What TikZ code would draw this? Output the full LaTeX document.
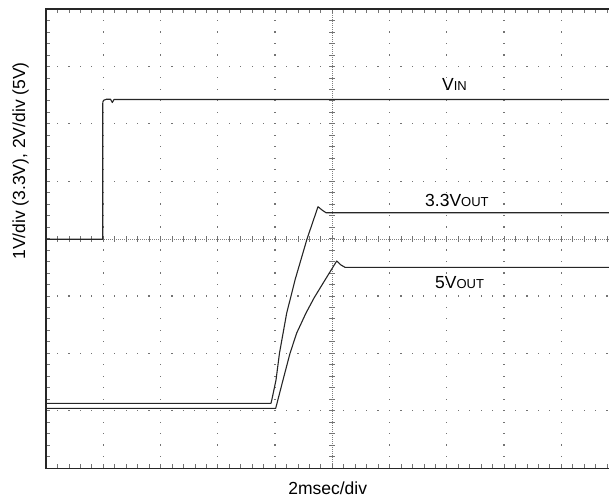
\documentclass[tikz,border=0pt]{standalone}
\usepackage{fontspec}
\setmainfont{Liberation Sans}
\begin{document}
\begin{tikzpicture}[x=1pt,y=-1pt,
  griddot/.style={fill=black!55},
  gridtick/.style={draw=black!55, line width=0.7pt},
  centerline/.style={draw=black!50, line width=0.8pt, dash pattern=on 1pt off 1pt},
  frame/.style={draw=black!85, line width=1.4pt},
  trace/.style={draw=black!85, line width=1.1pt, line join=round},
  lbl/.style={inner sep=0pt, font=\fontsize{17.5}{20}\selectfont},
  sublbl/.style={font=\fontsize{13}{15}\selectfont}]
\useasboundingbox (0,0) rectangle (609,499);
\begin{scope}
\clip (0,0) rectangle (609,499);
% dotted grid lines (horizontal)
\foreach \j in {1,2,3,5,6,7} {
  \foreach \k in {1,...,50} {
    \fill[griddot] ({46+\k*11.45-0.6},{9+\j*57.4-0.6}) rectangle ++(1.2,1.2);
  }
}
% dotted grid lines (vertical)
\foreach \i in {1,2,3,4,6,7,8,9} {
  \foreach \k in {1,...,39} {
    \fill[griddot] ({46+\i*57.25-0.6},{9+\k*11.475-0.6}) rectangle ++(1.2,1.2);
  }
}
% centre lines
\draw[centerline] (46,239.2) -- (609,239.2);
\draw[centerline] (332.25,9) -- (332.25,468.2);
\foreach \k in {1,...,49} {
  \draw[gridtick] ({46+\k*11.45},236.2) -- ({46+\k*11.45},242.2);
}
\foreach \k in {1,...,39} {
  \draw[gridtick] (329.25,{9+\k*11.475}) -- (335.25,{9+\k*11.475});
}
% edge ticks
\foreach \k in {1,...,49} {
  \draw[gridtick] ({46+\k*11.45},9) -- ({46+\k*11.45},13);
  \draw[gridtick] ({46+\k*11.45},468.2) -- ({46+\k*11.45},464.2);
}
\foreach \k in {1,...,39} {
  \draw[gridtick] (46,{9+\k*11.475}) -- (50,{9+\k*11.475});
}
% frame
\draw[frame] (609,9) -- (46,9) -- (46,468.2) -- (609,468.2);
% traces
\draw[trace] (46,239.2) -- (102.7,239.2) -- (102.7,104)
  .. controls (102.7,100.5) and (104,99.2) .. (106.5,99.2)
  -- (110.5,99.2) -- (112.3,102.5) -- (114,99.5) -- (609,99.5);
\draw[trace] (46,403.3) -- (271,403.3) -- (272,399) -- (276,380)
  -- (279.5,353) -- (286.7,313) -- (290,300) -- (295,280)
  -- (307,239) -- (318,206.7) -- (322,210) -- (326,212.7) -- (609,212.7);
\draw[trace] (46,408.3) -- (275.7,408.3) -- (283,380) -- (290,353.3)
  -- (296.7,333) -- (306,313) -- (314,298) -- (325,280) -- (336.7,261)
  -- (341,265) -- (345,267.3) -- (609,267.3);
\end{scope}
% labels
\node[lbl, anchor=base west] (vin) at (442,90) {V{\fontsize{13}{15}\selectfont IN}};
\node[lbl, anchor=base west] (v33) at (425,206.5) {3.3V{\fontsize{13}{15}\selectfont OUT}};
\node[lbl, anchor=base west] (v5) at (435,288) {5V{\fontsize{13}{15}\selectfont OUT}};
\node[lbl, anchor=base] (xlab) at (327.7,494.5) {2msec/div};
\node[lbl, anchor=base, rotate=90] (ylab) at (25,161) {1V/div (3.3V), 2V/div (5V)};
\end{tikzpicture}
\end{document}
